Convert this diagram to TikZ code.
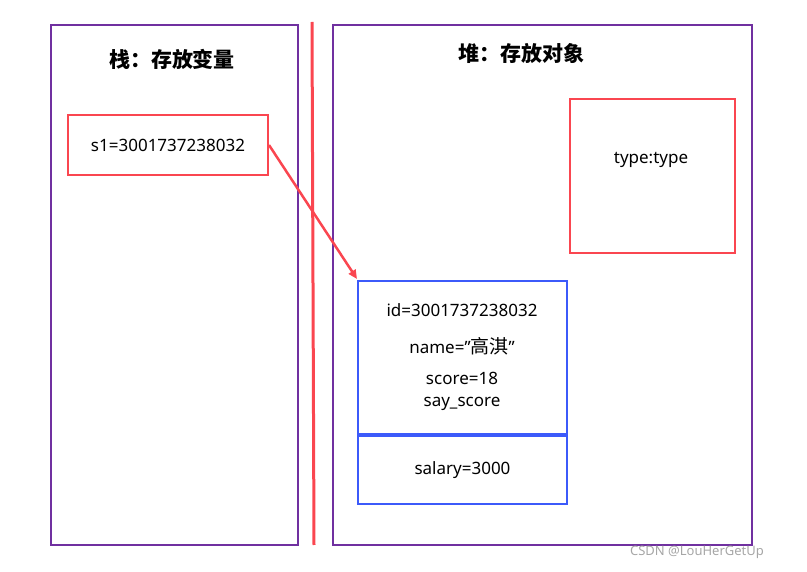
\documentclass[tikz,border=0pt]{standalone}
\usepackage{fontspec}
\setmainfont{Noto Sans}
\newfontfamily\cjk{Noto Sans CJK SC}
\usetikzlibrary{arrows.meta}
\definecolor{pur}{RGB}{112,48,160}
\definecolor{rd}{RGB}{250,70,80}
\definecolor{bl}{RGB}{60,90,250}
\begin{document}
\begin{tikzpicture}[x=1pt,y=-1pt,
  pbox/.style={draw=pur,line width=2.2pt},
  rbox/.style={draw=rd,line width=2pt},
  bbox/.style={draw=bl,line width=2.2pt},
  txt/.style={font=\fontsize{17}{19}\selectfont},
  ttl/.style={font=\fontsize{21}{23}\selectfont\cjk\bfseries}]
\useasboundingbox (0,0) rectangle (807,572);
\draw[pbox] (51,25) rectangle (298,545);
\draw[pbox] (333,25) rectangle (752,545);
\draw[draw=rd,line width=3pt] (312,22) -- (314,545);
\node[ttl] (t1) at (172,59) {栈：存放变量};
\node[ttl] (t2) at (521,54) {堆：存放对象};
\node[rbox,minimum width=200pt,minimum height=60pt,txt] (s1) at (168,145) {s1=3001737238032};
\draw[rbox] (570,99) rectangle (735,253);
\node[txt] (ty) at (651,160) {type:type};
\draw[bbox] (358,281) rectangle (567,434);
\coordinate (bt) at (357,279);
\node[txt] (id) at (462,310) {id=3001737238032};
\node[txt] (nm) at (462,346) {name=\symbol{34}{\cjk\fontsize{19}{21}\selectfont 高淇}\symbol{34}};
\node[txt] (sc) at (462,378) {score=18};
\node[txt] (ss) at (462,404) {say\_score};
\node[bbox,minimum width=209pt,minimum height=68pt,txt] (sa) at (462.5,470) {salary=3000};
\draw[draw=rd,line width=2.5pt,-{Triangle[length=9pt,width=8pt]}] (s1.east) -- (bt);
\node[text=gray!70,font=\fontsize{13}{15}\selectfont] (wm) at (697,552) {CSDN @LouHerGetUp};
\end{tikzpicture}
\end{document}
